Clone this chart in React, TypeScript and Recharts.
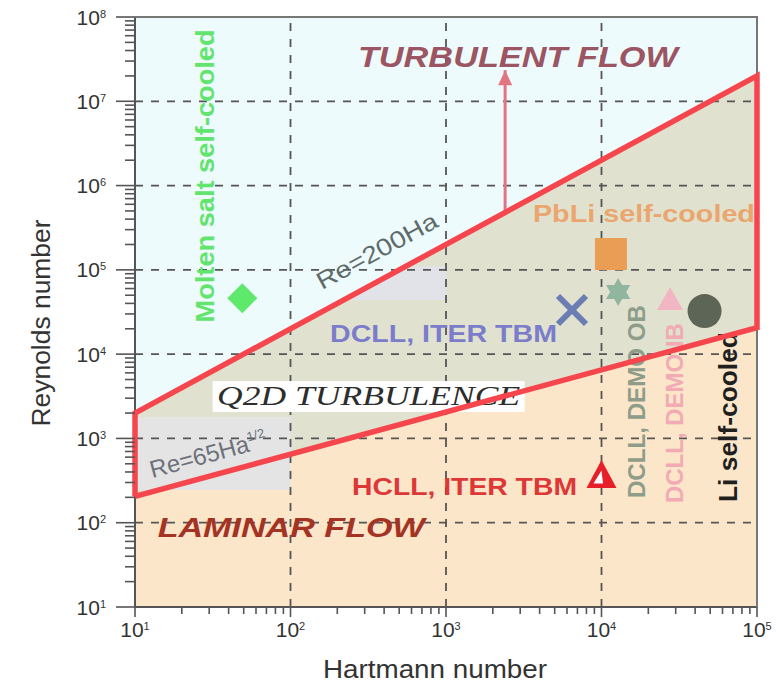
import React from 'react';
import { ComposedChart, XAxis, YAxis, Area, Line, Scatter } from 'recharts';

// ---------- axes ----------
const xMajorTicks = [10, 100, 1000, 10000, 100000];
const xTickExponents = ['1', '2', '3', '4', '5'];
const yMajorTicks = [10, 100, 1000, 10000, 100000, 1000000, 10000000, 100000000];
const yTickExponents = ['1', '2', '3', '4', '5', '6', '7', '8'];
const minorMultipliers = [2, 3, 4, 5, 6, 7, 8, 9];
const xGridValues = [100, 1000, 10000];
const yGridValues = [100, 1000, 10000, 100000, 1000000, 10000000];

// ---------- flow regime boundaries ----------
const boundaryHa = [10, 100000];
const laminarUpperRe = [205.5, 20555]; // Re = 65 Ha^1/2
const q2dUpperRe = [2000, 20000000]; // Re = 200 Ha
const reMin = 10;
const reMax = 100000000;

// shaded label boxes
const lowBoxHa = [10, 100];
const lowBoxRe = [244, 1790];
const highBoxHa = [220, 550, 1000];
const highBoxLowRe = [44000, 44000, 44000];
const highBoxHighRe = [44000, 110000, 110000];

// ---------- design points ----------
const moltenSalt = [{ ha: 49, re: 46000 }];
const pbliSelfCooled = [{ ha: 11500, re: 154000 }];
const dcllIterTbm = [{ ha: 6460, re: 33400 }];
const dcllDemoOB = [{ ha: 12800, re: 54600 }];
const dcllDemoIB = [{ ha: 27600, re: 45000 }];
const liSelfCooled = [{ ha: 46000, re: 32400 }];
const hcllIterTbm = [{ ha: 10000, re: 378 }];

// arrow towards turbulent flow
const arrowHa = 2400;
const arrowRe = [480000, 23400000];

// ---------- annotations ----------
const annotations = [
  { id: 'turbulent', text: 'TURBULENT FLOW', ha: 2900, re: 25500000 },
  { id: 'pbli', text: 'PbLi self-cooled', ha: 18750, re: 369000 },
  { id: 'molten', text: 'Molten salt self-cooled', ha: 32.2, re: 1300000 },
  { id: 're200', text: 'Re=200Ha', ha: 382, re: 138000 },
  { id: 'dcllIter', text: 'DCLL, ITER TBM', ha: 964, re: 13900 },
  { id: 'q2d', text: 'Q2D TURBULENCE', ha: 318, re: 2490 },
  { id: 're65', text: 'Re=65Ha', ha: 12.9, re: 339 },
  { id: 'hcll', text: 'HCLL, ITER TBM', ha: 1315, re: 213 },
  { id: 'laminar', text: 'LAMINAR FLOW', ha: 101, re: 67.7 },
  { id: 'dcllOB', text: 'DCLL, DEMO OB', ha: 19050, re: 196 },
  { id: 'dcllIB', text: 'DCLL, DEMO IB', ha: 33400, re: 171 },
  { id: 'li', text: 'Li self-cooled', ha: 74300, re: 176 },
];

const SANS = 'Liberation Sans, Arial, sans-serif';
const SERIF = 'Liberation Serif, Times New Roman, serif';

const annotationStyle: Record<string, any> = {
  turbulent: { size: 30, weight: 'bold', italic: true, color: '#9c5562', len: 320, rot: 0, anchor: 'middle' },
  pbli: { size: 23, weight: 'bold', color: '#eaa66e', len: 222, rot: 0, anchor: 'middle' },
  molten: { size: 26, weight: 'bold', color: '#62e46f', len: 293, rot: -90, anchor: 'middle' },
  re200: { size: 24, weight: 'normal', color: '#5f6b6b', len: 134, rot: -28.5, anchor: 'middle' },
  dcllIter: { size: 23, weight: 'bold', color: '#7b7dcb', len: 227, rot: 0, anchor: 'middle' },
  q2d: { size: 28, weight: 'normal', italic: true, serif: true, color: '#2d2d2d', len: 303, rot: 0, anchor: 'middle', box: true },
  re65: { size: 24, weight: 'normal', color: '#6d717a', rot: -15.2, anchor: 'start', sup: '1/2' },
  hcll: { size: 23, weight: 'bold', color: '#de3737', len: 225, rot: 0, anchor: 'middle' },
  laminar: { size: 28, weight: 'bold', italic: true, color: '#a53324', len: 267, rot: 0, anchor: 'middle' },
  dcllOB: { size: 24, weight: 'bold', color: '#8e9c8a', len: 193, rot: -90, anchor: 'start' },
  dcllIB: { size: 24, weight: 'bold', color: '#f2aab4', len: 180, rot: -90, anchor: 'start' },
  li: { size: 26, weight: 'bold', color: '#1f1f1f', len: 170, rot: -90, anchor: 'start' },
};

// ---------- derived tables ----------
const withMinors = (majors: number[]) =>
  majors.flatMap((t, i) => (i < majors.length - 1 ? [t, ...minorMultipliers.map((m) => m * t)] : [t]));
const xTicks = withMinors(xMajorTicks);
const yTicks = withMinors(yMajorTicks);

const regionData = boundaryHa.map((ha, i) => ({
  ha,
  background: [reMin, reMax],
  laminar: [reMin, laminarUpperRe[i]],
  q2d: [laminarUpperRe[i], q2dUpperRe[i]],
}));
const lowBoxData = lowBoxHa.map((ha) => ({ ha, band: [lowBoxRe[0], lowBoxRe[1]] }));
const highBoxData = highBoxHa.map((ha, i) => ({ ha, band: [highBoxLowRe[i], highBoxHighRe[i]] }));

const outlineData = [
  { ha: boundaryHa[0], re: laminarUpperRe[0] },
  { ha: boundaryHa[0], re: q2dUpperRe[0] },
  { ha: boundaryHa[1], re: q2dUpperRe[1] },
  { ha: boundaryHa[1], re: laminarUpperRe[1] },
  { ha: boundaryHa[0], re: laminarUpperRe[0] },
];
const frameData = [
  { ha: xMajorTicks[0], re: reMax },
  { ha: xMajorTicks[xMajorTicks.length - 1], re: reMax },
  { ha: xMajorTicks[xMajorTicks.length - 1], re: reMin },
];
const arrowData = arrowRe.map((re, i) => ({ ha: arrowHa, re, head: i === arrowRe.length - 1 }));

// ---------- renderers ----------
const XTick = (props: any) => {
  const { x, y, payload } = props;
  const idx = xMajorTicks.indexOf(payload.value);
  const major = idx >= 0;
  return (
    <g>
      <line x1={x} x2={x} y1={y} y2={y + (major ? 10 : 7)} stroke="#555" strokeWidth={1.6} />
      {major && (
        <text x={x} y={y + 30} textAnchor="middle" fontSize={21} fill="#333" fontFamily={SANS}>
          10<tspan dy={-7} fontSize={11}>{xTickExponents[idx]}</tspan>
        </text>
      )}
    </g>
  );
};

const YTick = (props: any) => {
  const { x, y, payload } = props;
  const idx = yMajorTicks.indexOf(payload.value);
  const major = idx >= 0;
  return (
    <g>
      <line x1={x - (major ? 19 : 10)} x2={x} y1={y} y2={y} stroke="#555" strokeWidth={1.6} />
      {major && (
        <text x={x - 29} y={y + 7.5} textAnchor="end" fontSize={21} fill="#333" fontFamily={SANS}>
          10<tspan dy={-7} fontSize={11}>{yTickExponents[idx]}</tspan>
        </text>
      )}
    </g>
  );
};

const XTitle = () => (
  <text x={435} y={678} textAnchor="middle" fontSize={26} fill="#333" fontFamily={SANS} textLength={224} lengthAdjust="spacingAndGlyphs">
    Hartmann number
  </text>
);
const YTitle = () => (
  <text x={50} y={323} textAnchor="middle" fontSize={26} fill="#333" fontFamily={SANS} transform="rotate(-90, 50, 323)" textLength={207} lengthAdjust="spacingAndGlyphs">
    Reynolds number
  </text>
);

const AnnotationShape = (props: any) => {
  const { cx, cy, payload } = props;
  if (cx == null || cy == null || !payload) return <g />;
  const s = annotationStyle[payload.id];
  const transform = s.rot ? `rotate(${s.rot}, ${cx}, ${cy})` : undefined;
  return (
    <g>
      {s.box && <rect x={cx - 156} y={cy - 24} width={312} height={31} fill="#ffffff" />}
      <text
        x={cx}
        y={cy}
        transform={transform}
        textAnchor={s.anchor}
        fontSize={s.size}
        fontWeight={s.weight}
        fontStyle={s.italic ? 'italic' : 'normal'}
        fontFamily={s.serif ? SERIF : SANS}
        fill={s.color}
        textLength={s.len}
        lengthAdjust={s.len ? 'spacingAndGlyphs' : undefined}
      >
        {payload.text}
        {s.sup && (
          <tspan dy={-10} fontSize={13}>
            {s.sup}
          </tspan>
        )}
      </text>
    </g>
  );
};

const Diamond = ({ cx, cy }: any) => (
  <polygon points={`${cx},${cy - 15} ${cx + 15},${cy} ${cx},${cy + 15} ${cx - 15},${cy}`} fill="#5ee96c" />
);
const Square = ({ cx, cy }: any) => <rect x={cx - 16} y={cy - 16} width={32} height={32} fill="#e99d55" />;
const Cross = ({ cx, cy }: any) => (
  <g stroke="#6b7db2" strokeWidth={6}>
    <line x1={cx - 14} y1={cy - 14} x2={cx + 14} y2={cy + 14} />
    <line x1={cx - 14} y1={cy + 14} x2={cx + 14} y2={cy - 14} />
  </g>
);
const Star6 = ({ cx, cy }: any) => {
  const pts: string[] = [];
  for (let k = 0; k < 12; k++) {
    const r = k % 2 === 0 ? 14 : 8;
    const a = (Math.PI / 6) * k - Math.PI / 2;
    pts.push(`${cx + r * Math.cos(a)},${cy + r * Math.sin(a)}`);
  }
  return <polygon points={pts.join(' ')} fill="#90b6a0" />;
};
const PinkTriangle = ({ cx, cy }: any) => (
  <polygon points={`${cx},${cy - 12} ${cx + 13},${cy + 11} ${cx - 13},${cy + 11}`} fill="#f2b6c2" />
);
const DarkCircle = ({ cx, cy }: any) => <circle cx={cx} cy={cy} r={17} fill="#5d6557" />;
const RedTriangle = ({ cx, cy }: any) => (
  <g>
    <polygon points={`${cx},${cy - 14} ${cx + 15},${cy + 14} ${cx - 15},${cy + 14}`} fill="#e61f29" />
    <polygon points={`${cx},${cy - 3.5} ${cx + 1.5},${cy + 9.5} ${cx - 8},${cy + 9.5}`} fill="#ffffff" />
  </g>
);
const ArrowHead = ({ cx, cy, payload }: any) =>
  payload && payload.head ? (
    <polygon points={`${cx},${cy} ${cx + 7},${cy + 15} ${cx - 7},${cy + 15}`} fill="#e27581" />
  ) : (
    <g />
  );
const Nothing = () => <g />;

export default function App() {
  return (
    <div style={{ position: 'absolute', left: 0, top: 0, background: '#fff' }}>
      <ComposedChart width={776} height={684} margin={{ top: 17, right: 19, bottom: 0, left: 0 }}>
        <XAxis
          dataKey="ha"
          type="number"
          scale="log"
          domain={[10, 100000]}
          ticks={xTicks}
          interval={0}
          tick={<XTick />}
          tickLine={false}
          tickSize={0}
          tickMargin={0}
          height={77}
          axisLine={{ stroke: '#555', strokeWidth: 2 }}
          label={XTitle}
        />
        <YAxis
          dataKey="re"
          type="number"
          scale="log"
          domain={[10, 100000000]}
          ticks={yTicks}
          interval={0}
          tick={<YTick />}
          tickLine={false}
          tickSize={0}
          tickMargin={0}
          width={135}
          axisLine={{ stroke: '#555', strokeWidth: 2 }}
          label={YTitle}
        />

        <Area data={regionData} dataKey="background" type="linear" fill="#eefbfc" fillOpacity={1} stroke="none" isAnimationActive={false} />
        <Area data={regionData} dataKey="laminar" type="linear" fill="#fce6c9" fillOpacity={1} stroke="none" isAnimationActive={false} />
        <Area data={regionData} dataKey="q2d" type="linear" fill="#e0e2cf" fillOpacity={1} stroke="none" isAnimationActive={false} />
        <Area data={lowBoxData} dataKey="band" type="linear" fill="#e4e4e5" fillOpacity={1} stroke="none" isAnimationActive={false} />
        <Area data={highBoxData} dataKey="band" type="linear" fill="#e2e2e9" fillOpacity={1} stroke="none" isAnimationActive={false} />

        {xGridValues.map((v) => (
          <Line
            key={'gx' + v}
            data={[{ ha: v, re: reMin }, { ha: v, re: reMax }]}
            dataKey="re"
            type="linear"
            stroke="#555"
            strokeWidth={1.8}
            strokeDasharray="8 8"
            dot={false}
            activeDot={false}
            isAnimationActive={false}
          />
        ))}
        {yGridValues.map((v) => (
          <Line
            key={'gy' + v}
            data={[{ ha: xMajorTicks[0], re: v }, { ha: xMajorTicks[xMajorTicks.length - 1], re: v }]}
            dataKey="re"
            type="linear"
            stroke="#555"
            strokeWidth={1.8}
            strokeDasharray="8 8"
            dot={false}
            activeDot={false}
            isAnimationActive={false}
          />
        ))}

        <Scatter data={frameData} fill="#777" line={{ stroke: '#777', strokeWidth: 2 }} shape={Nothing} isAnimationActive={false} />

        <Scatter data={arrowData} fill="#e27581" line={{ stroke: '#e27581', strokeWidth: 3 }} shape={ArrowHead} isAnimationActive={false} />

        <Scatter data={annotations} fill="#000" shape={AnnotationShape} isAnimationActive={false} />

        <Scatter data={moltenSalt} fill="#5ee96c" shape={Diamond} isAnimationActive={false} />
        <Scatter data={pbliSelfCooled} fill="#e99d55" shape={Square} isAnimationActive={false} />
        <Scatter data={dcllIterTbm} fill="#6b7db2" shape={Cross} isAnimationActive={false} />
        <Scatter data={dcllDemoOB} fill="#90b6a0" shape={Star6} isAnimationActive={false} />
        <Scatter data={dcllDemoIB} fill="#f2b6c2" shape={PinkTriangle} isAnimationActive={false} />
        <Scatter data={liSelfCooled} fill="#5d6557" shape={DarkCircle} isAnimationActive={false} />
        <Scatter data={hcllIterTbm} fill="#e61f29" shape={RedTriangle} isAnimationActive={false} />

        <Scatter
          data={outlineData}
          fill="#f5464e"
          line={{ stroke: '#f5464e', strokeWidth: 5.5, strokeLinejoin: 'miter' }}
          shape={Nothing}
          isAnimationActive={false}
        />
      </ComposedChart>
    </div>
  );
}
